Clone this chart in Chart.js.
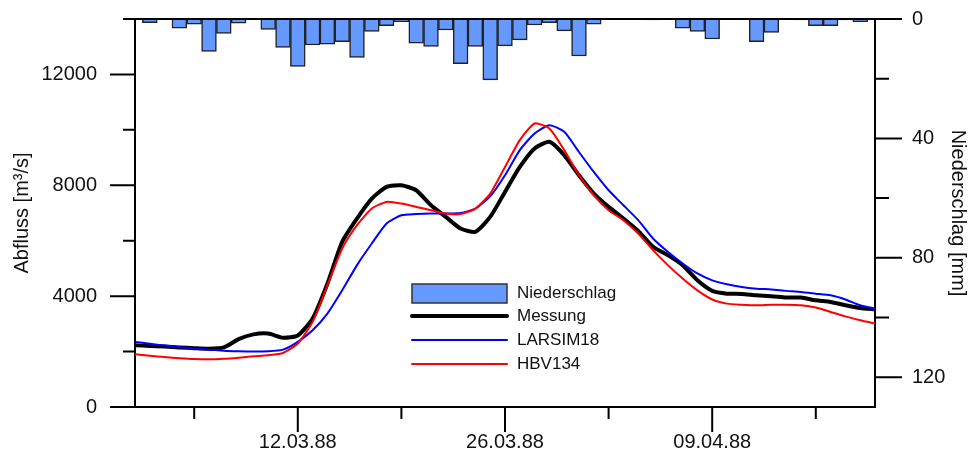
<!DOCTYPE html>
<html>
<head>
<meta charset="utf-8">
<script src="https://cdn.jsdelivr.net/npm/chart.js@4.4.0/dist/chart.umd.min.js"></script>
<style>
  body { margin: 0; background: #fff; }
  #wrap { width: 972px; height: 468px; }
</style>
</head>
<body>
<div id="wrap"><canvas id="myChart" width="972" height="468"></canvas></div>
<script>
// Tage 01.03.88 - 20.04.88
const datum = [
  '01.03.88', '02.03.88', '03.03.88', '04.03.88', '05.03.88', '06.03.88', '07.03.88', '08.03.88',
  '09.03.88', '10.03.88', '11.03.88', '12.03.88', '13.03.88', '14.03.88', '15.03.88', '16.03.88',
  '17.03.88', '18.03.88', '19.03.88', '20.03.88', '21.03.88', '22.03.88', '23.03.88', '24.03.88',
  '25.03.88', '26.03.88', '27.03.88', '28.03.88', '29.03.88', '30.03.88', '31.03.88', '01.04.88',
  '02.04.88', '03.04.88', '04.04.88', '05.04.88', '06.04.88', '07.04.88', '08.04.88', '09.04.88',
  '10.04.88', '11.04.88', '12.04.88', '13.04.88', '14.04.88', '15.04.88', '16.04.88', '17.04.88',
  '18.04.88', '19.04.88', '20.04.88'
];

// Niederschlag [mm]
const niederschlag = [
  0, 1.2, 0, 3.1, 1.7, 10.9, 4.8, 1.4, 0, 3.5, 9.5, 15.9, 8.7, 8.4, 7.6, 12.9,
  4.2, 2.2, 0.9, 8.1, 9.2, 3.7, 15.0, 9.2, 20.4, 9.0, 7.0, 2.0, 1.2, 4.0, 12.4, 1.7,
  0, 0, 0, 0.3, 0, 3.1, 4.2, 6.7, 0, 0, 7.6, 4.5, 0, 0.3, 2.2, 2.2, 0.3, 0.9, 0
];

// Abfluss [m3/s]
const messung = [
  2230, 2200, 2180, 2150, 2120, 2100, 2150, 2450, 2620, 2650, 2500, 2580, 3190, 4450, 5960, 6800,
  7520, 7940, 8000, 7820, 7280, 6860, 6440, 6320, 6860, 7760, 8660, 9330, 9570, 9090, 8360, 7700,
  7220, 6800, 6350, 5780, 5480, 5120, 4570, 4190, 4090, 4080, 4030, 4000, 3950, 3950, 3850, 3790,
  3670, 3570, 3520
];
const larsim18 = [
  2350, 2280, 2220, 2160, 2100, 2070, 2030, 2010, 2000, 2010, 2070, 2350, 2770, 3370, 4210, 5120,
  5900, 6620, 6920, 6960, 6980, 6980, 7000, 7160, 7600, 8360, 9270, 9870, 10170, 9930, 9200, 8480,
  7820, 7280, 6740, 6080, 5600, 5180, 4820, 4570, 4430, 4330, 4270, 4240, 4190, 4150, 4090, 4030,
  3880, 3670, 3550
];
const hbv134 = [
  1900, 1850, 1800, 1760, 1730, 1720, 1740, 1780, 1830, 1870, 1950, 2290, 3070, 4390, 5720, 6560,
  7160, 7400, 7340, 7220, 7100, 6980, 6960, 7160, 7700, 8660, 9630, 10230, 10050, 9270, 8360, 7640,
  7100, 6740, 6260, 5660, 5120, 4640, 4210, 3880, 3730, 3690, 3670, 3690, 3690, 3670, 3590, 3430,
  3270, 3130, 3010
];

// Achsenbeschriftung
const xBeschriftung = ['12.03.88', '26.03.88', '09.04.88'];
const xNeben = ['05.03.88', '19.03.88', '02.04.88', '16.04.88'];
const abflussTicks = [0, 4000, 8000, 12000];
const abflussNeben = [2000, 6000, 10000, 14000];
const nsTicks = [0, 40, 80, 120];
const nsNeben = [20, 60, 100];

const schrift = { family: "'Liberation Sans', Arial, sans-serif", size: 20 };

// Rahmen oben + Striche an den Achsen (lang = beschriftet, kurz = Zwischenwerte)
const achsenStriche = {
  id: 'achsenStriche',
  afterDraw(chart) {
    const ctx = chart.ctx;
    const a = chart.chartArea;
    const sx = chart.scales.x, sy = chart.scales.y, sy1 = chart.scales.y1;
    ctx.save();
    ctx.strokeStyle = '#000';
    ctx.lineWidth = 2;
    ctx.beginPath();
    ctx.moveTo(a.left, a.top);
    ctx.lineTo(a.right, a.top);
    abflussTicks.forEach(v => { let p = sy.getPixelForValue(v); ctx.moveTo(a.left - 25, p); ctx.lineTo(a.left, p); });
    abflussNeben.forEach(v => { let p = sy.getPixelForValue(v); ctx.moveTo(a.left - 12, p); ctx.lineTo(a.left, p); });
    nsTicks.forEach(v => { let p = sy1.getPixelForValue(v); ctx.moveTo(a.right, p); ctx.lineTo(a.right + 27, p); });
    nsNeben.forEach(v => { let p = sy1.getPixelForValue(v); ctx.moveTo(a.right, p); ctx.lineTo(a.right + 14, p); });
    xBeschriftung.forEach(d => { let p = sx.getPixelForValue(datum.indexOf(d)); ctx.moveTo(p, a.bottom); ctx.lineTo(p, a.bottom + 25); });
    xNeben.forEach(d => { let p = sx.getPixelForValue(datum.indexOf(d)); ctx.moveTo(p, a.bottom); ctx.lineTo(p, a.bottom + 12); });
    ctx.stroke();
    ctx.restore();
  }
};

// Legende im Diagramm
const legende = {
  id: 'legende',
  afterDraw(chart) {
    const ctx = chart.ctx;
    const a = chart.chartArea;
    const x0 = a.left + 277, breite = 95, textX = x0 + breite + 10;
    const zeilen = [a.top + 274, a.top + 297, a.top + 321, a.top + 345];
    ctx.save();
    ctx.font = "17px 'Liberation Sans', Arial, sans-serif";
    ctx.textBaseline = 'middle';
    chart.data.datasets.forEach((ds, i) => {
      const yy = zeilen[i];
      if (ds.type === 'bar') {
        ctx.fillStyle = ds.backgroundColor;
        ctx.fillRect(x0, yy - 9, breite, 19);
        ctx.strokeStyle = '#333';
        ctx.lineWidth = 1.5;
        ctx.strokeRect(x0, yy - 9, breite, 19);
      } else {
        ctx.strokeStyle = ds.borderColor;
        ctx.lineWidth = ds.borderWidth;
        ctx.lineCap = 'round';
        ctx.beginPath();
        ctx.moveTo(x0, yy);
        ctx.lineTo(x0 + breite, yy);
        ctx.stroke();
      }
      ctx.fillStyle = '#111';
      ctx.fillText(ds.label, textX, yy);
    });
    ctx.restore();
  }
};

// feste Achsenmasse, ohne Zusatzabstand durch Beschriftung
const festeBreite = w => s => { s.width = w; s.paddingTop = 0; s.paddingBottom = 0; };

const ctx = document.getElementById('myChart').getContext('2d');
const myChart = new Chart(ctx, {
  data: {
    labels: datum,
    datasets: [{
      type: 'bar',
      label: 'Niederschlag',
      data: niederschlag,
      yAxisID: 'y1',
      backgroundColor: '#6699ff',
      borderColor: '#222',
      borderWidth: 1.5,
      barPercentage: 1,
      categoryPercentage: 1,
      order: 10
    }, {
      type: 'line',
      label: 'Messung',
      data: messung,
      yAxisID: 'y',
      borderColor: '#000',
      borderWidth: 4,
      pointRadius: 0,
      tension: 0.2,
      order: 3
    }, {
      type: 'line',
      label: 'LARSIM18',
      data: larsim18,
      yAxisID: 'y',
      borderColor: '#0000ff',
      borderWidth: 2,
      pointRadius: 0,
      tension: 0.2,
      order: 2
    }, {
      type: 'line',
      label: 'HBV134',
      data: hbv134,
      yAxisID: 'y',
      borderColor: '#ff0000',
      borderWidth: 2,
      pointRadius: 0,
      tension: 0.2,
      order: 1
    }]
  },
  options: {
    responsive: false,
    animation: false,
    layout: { padding: { top: 19, left: 0, right: 0, bottom: 0 } },
    plugins: {
      legend: { display: false },
      tooltip: { enabled: false }
    },
    scales: {
      x: {
        type: 'category',
        position: 'bottom',
        offset: false,
        grid: { display: false, drawTicks: false },
        border: { display: true, color: '#000', width: 2 },
        ticks: {
          autoSkip: false,
          maxRotation: 0,
          padding: 23,
          color: '#111',
          font: schrift,
          callback: function (v) {
            const d = datum[v];
            return xBeschriftung.includes(d) ? d : '';
          }
        },
        afterFit: s => { s.height = 61; s.paddingLeft = 0; s.paddingRight = 0; }
      },
      y: {
        type: 'linear',
        position: 'left',
        min: 0,
        max: 14000,
        grid: { display: false, drawTicks: false },
        border: { display: true, color: '#000', width: 2 },
        afterBuildTicks: s => { s.ticks = abflussTicks.map(v => ({ value: v })); },
        ticks: { padding: 38, color: '#111', font: schrift, callback: v => String(v) },
        title: { display: true, text: 'Abfluss [m³/s]', color: '#111', font: schrift, padding: { top: 10 } },
        afterFit: festeBreite(135)
      },
      y1: {
        type: 'linear',
        position: 'right',
        reverse: true,
        min: 0,
        max: 130,
        grid: { display: false, drawTicks: false },
        border: { display: true, color: '#000', width: 2 },
        afterBuildTicks: s => { s.ticks = nsTicks.map(v => ({ value: v })); },
        ticks: { padding: 37, color: '#111', font: schrift, callback: v => String(v) },
        title: { display: true, text: 'Niederschlag [mm]', color: '#111', font: schrift, padding: { top: 2 } },
        afterFit: festeBreite(97)
      }
    }
  },
  plugins: [achsenStriche, legende]
});
</script>
</body>
</html>
